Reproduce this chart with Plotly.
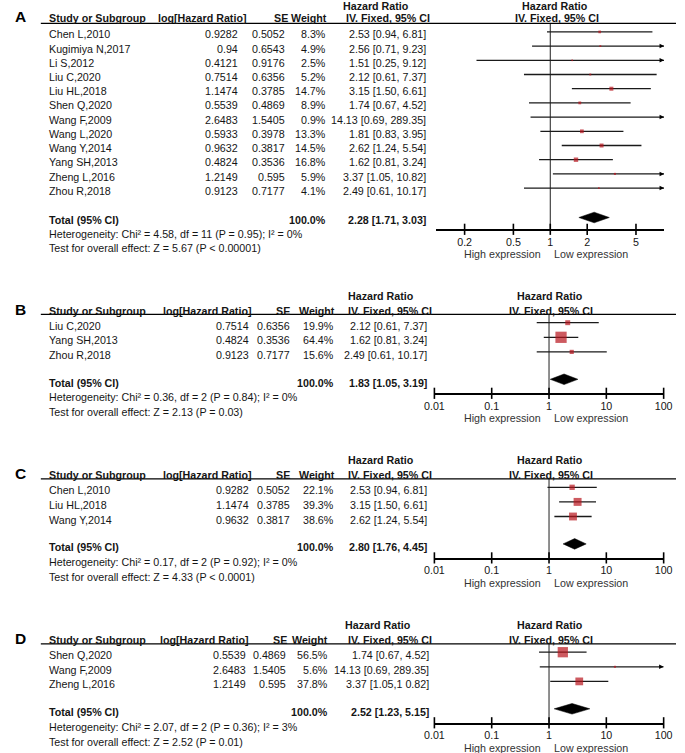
import math
import plotly.graph_objects as go

W, H = 685, 753
FONT = "Liberation Sans, Arial, sans-serif"
TXT = "#151515"
RED = "#B8141C"
FS = 10.7

# ---------------- data ----------------
A_study = ["Chen L,2010", "Kugimiya N,2017", "Li S,2012", "Liu C,2020", "Liu HL,2018", "Shen Q,2020",
           "Wang F,2009", "Wang L,2020", "Wang Y,2014", "Yang SH,2013", "Zheng L,2016", "Zhou R,2018"]
A_loghr = [0.9282, 0.94, 0.4121, 0.7514, 1.1474, 0.5539, 2.6483, 0.5933, 0.9632, 0.4824, 1.2149, 0.9123]
A_se = [0.5052, 0.6543, 0.9176, 0.6356, 0.3785, 0.4869, 1.5405, 0.3978, 0.3817, 0.3536, 0.595, 0.7177]
A_weight = [8.3, 4.9, 2.5, 5.2, 14.7, 8.9, 0.9, 13.3, 14.5, 16.8, 5.9, 4.1]
A_hr = [2.53, 2.56, 1.51, 2.12, 3.15, 1.74, 14.13, 1.81, 2.62, 1.62, 3.37, 2.49]
A_lo = [0.94, 0.71, 0.25, 0.61, 1.50, 0.67, 0.69, 0.83, 1.24, 0.81, 1.05, 0.61]
A_hi = [6.81, 9.23, 9.12, 7.37, 6.61, 4.52, 289.35, 3.95, 5.54, 3.24, 10.82, 10.17]
A_total = [2.28, 1.71, 3.03]
A_het = "Heterogeneity: Chi² = 4.58, df = 11 (P = 0.95); I² = 0%"
A_test = "Test for overall effect: Z = 5.67 (P < 0.00001)"
A_ticks = [0.2, 0.5, 1, 2, 5]
A_ticklabels = ["0.2", "0.5", "1", "2", "5"]
A_xrange = [0.1159, 8.47]

B_study = ["Liu C,2020", "Yang SH,2013", "Zhou R,2018"]
B_loghr = [0.7514, 0.4824, 0.9123]
B_se = [0.6356, 0.3536, 0.7177]
B_weight = [19.9, 64.4, 15.6]
B_hr = [2.12, 1.62, 2.49]
B_lo = [0.61, 0.81, 0.61]
B_hi = [7.37, 3.24, 10.17]
B_total = [1.83, 1.05, 3.19]
B_het = "Heterogeneity: Chi² = 0.36, df = 2 (P = 0.84); I² = 0%"
B_test = "Test for overall effect: Z = 2.13 (P = 0.03)"

C_study = ["Chen L,2010", "Liu HL,2018", "Wang Y,2014"]
C_loghr = [0.9282, 1.1474, 0.9632]
C_se = [0.5052, 0.3785, 0.3817]
C_weight = [22.1, 39.3, 38.6]
C_hr = [2.53, 3.15, 2.62]
C_lo = [0.94, 1.50, 1.24]
C_hi = [6.81, 6.61, 5.54]
C_total = [2.80, 1.76, 4.45]
C_het = "Heterogeneity: Chi² = 0.17, df = 2 (P = 0.92); I² = 0%"
C_test = "Test for overall effect: Z = 4.33 (P < 0.0001)"

D_study = ["Shen Q,2020", "Wang F,2009", "Zheng L,2016"]
D_loghr = [0.5539, 2.6483, 1.2149]
D_se = [0.4869, 1.5405, 0.595]
D_weight = [56.5, 5.6, 37.8]
D_hr = [1.74, 14.13, 3.37]
D_lo = [0.67, 0.69, 1.05]
D_hi = [4.52, 289.35, 10.82]
D_ci_labels = ["1.74 [0.67, 4.52]", "14.13 [0.69, 289.35]", "3.37 [1.05,1 0.82]"]
D_total = [2.52, 1.23, 5.15]
D_het = "Heterogeneity: Chi² = 2.07, df = 2 (P = 0.36); I² = 3%"
D_test = "Test for overall effect: Z = 2.52 (P = 0.01)"

BCD_ticks = [0.01, 0.1, 1, 10, 100]
BCD_ticklabels = ["0.01", "0.1", "1", "10", "100"]
BCD_xrange = [0.01, 100]


def ci_fmt(h, l, u):
    return f"{h:.2f} [{l:.2f}, {u:.2f}]"


# ---------------- layout geometry (pixels) ----------------
def geom_B(off):
    return dict(hr_y=295.7 + off, hdr_y=310.5 + off, line_y=314.3 + off, row0=325.7 + off, step=14.6,
                mk_off=-3.0, tot_y=382.7 + off, dia_y=379.3 + off, het_y=397.3 + off, test_y=412.3 + off,
                axis_y=393.3 + off, exp_y=418.3 + off, ax_x0=436.5, ax_x1=672.3, phr_c=555, piv_c=556.7)


colsA = dict(log_r=235, logh_r=242.7, se_r=282.7, seh_r=285.7, w_r=325.5, wh_r=325.8, ci_r=428.3,
             hrh_c=376, ivh_r=431.7)
colsB = dict(log_r=245.7, logh_r=248.3, se_r=287.5, seh_r=288.5, w_r=333.3, wh_r=334, ci_r=429,
             hrh_c=381.3, ivh_r=434)
colsD = dict(log_r=242.5, logh_r=244.3, se_r=283.8, seh_r=284.5, w_r=326.8, wh_r=327, ci_r=430.7,
             hrh_c=379, ivh_r=434)

geomA = dict(hr_y=5.7, hdr_y=18.3, line_y=23.3, row0=34.5, step=14.2, mk_off=-2.6, tot_y=220,
             dia_y=217.5, het_y=234, test_y=248.3, axis_y=229.3, exp_y=254, ax_x0=437.7, ax_x1=672.7,
             phr_c=561, piv_c=562.5)

panels = [
    dict(label="A", study=A_study, loghr=A_loghr, se=A_se, w=A_weight, hr=A_hr, lo=A_lo, hi=A_hi,
         ci_labels=[ci_fmt(*t) for t in zip(A_hr, A_lo, A_hi)], total=A_total, het=A_het, test=A_test,
         ticks=A_ticks, ticklabels=A_ticklabels, xrange=A_xrange, g=geomA, c=colsA),
    dict(label="B", study=B_study, loghr=B_loghr, se=B_se, w=B_weight, hr=B_hr, lo=B_lo, hi=B_hi,
         ci_labels=[ci_fmt(*t) for t in zip(B_hr, B_lo, B_hi)], total=B_total, het=B_het, test=B_test,
         ticks=BCD_ticks, ticklabels=BCD_ticklabels, xrange=BCD_xrange, g=geom_B(0), c=colsB),
    dict(label="C", study=C_study, loghr=C_loghr, se=C_se, w=C_weight, hr=C_hr, lo=C_lo, hi=C_hi,
         ci_labels=[ci_fmt(*t) for t in zip(C_hr, C_lo, C_hi)], total=C_total, het=C_het, test=C_test,
         ticks=BCD_ticks, ticklabels=BCD_ticklabels, xrange=BCD_xrange, g=geom_B(164.6), c=colsB),
    dict(label="D", study=D_study, loghr=D_loghr, se=D_se, w=D_weight, hr=D_hr, lo=D_lo, hi=D_hi,
         ci_labels=D_ci_labels, total=D_total, het=D_het, test=D_test,
         ticks=BCD_ticks, ticklabels=BCD_ticklabels, xrange=BCD_xrange, g=geom_B(329.5), c=colsD),
]

fig = go.Figure()
annotations = []
shapes = []


def txt(x, y, s, anchor="left", bold=False, size=FS, color=TXT):
    annotations.append(dict(x=x / W, y=1 - y / H, xref="paper", yref="paper",
                            text=f"<b>{s}</b>" if bold else s, showarrow=False,
                            xanchor=anchor, yanchor="middle", borderpad=0, borderwidth=0,
                            font=dict(size=size, color=color, family=FONT)))


layout_axes = {}
for k, p in enumerate(panels, start=1):
    g, c = p["g"], p["c"]
    xa, ya = f"x{k}", f"y{k}"
    n = len(p["study"])
    xmin, xmax = p["xrange"]

    # ---- text columns ----
    txt(11, g["hdr_y"] - 1.5, p["label"], "center", bold=True, size=15.5, color="#000")
    txt(c["hrh_c"], g["hr_y"], "Hazard Ratio", "center", bold=True)
    txt(g["phr_c"], g["hr_y"], "Hazard Ratio", "center", bold=True)
    txt(40, g["hdr_y"], "Study or Subgroup", "left", bold=True)
    txt(c["logh_r"], g["hdr_y"], "log[Hazard Ratio]", "right", bold=True)
    txt(c["seh_r"], g["hdr_y"], "SE", "right", bold=True)
    txt(c["wh_r"], g["hdr_y"], "Weight", "right", bold=True)
    txt(c["ivh_r"], g["hdr_y"], "IV. Fixed, 95% CI", "right", bold=True)
    txt(g["piv_c"], g["hdr_y"], "IV. Fixed, 95% CI", "center", bold=True)
    shapes.append(dict(type="line", xref="paper", yref="paper", x0=31.7 / W, x1=1,
                       y0=1 - g["line_y"] / H, y1=1 - g["line_y"] / H,
                       line=dict(color="#000", width=1.3)))

    rows_txt = [g["row0"] + i * g["step"] for i in range(n)]
    for i in range(n):
        y = rows_txt[i]
        txt(40, y, p["study"][i])
        txt(c["log_r"], y, str(p["loghr"][i]), "right")
        txt(c["se_r"], y, str(p["se"][i]), "right")
        txt(c["w_r"], y, f"{p['w'][i]:.1f}%", "right")
        txt(c["ci_r"], y, p["ci_labels"][i], "right")
    txt(40, g["tot_y"], "Total (95% CI)", bold=True)
    txt(c["w_r"], g["tot_y"], "100.0%", "right", bold=True)
    txt(c["ci_r"], g["tot_y"], ci_fmt(*p["total"]), "right", bold=True)
    txt(40, g["het_y"], p["het"])
    txt(40, g["test_y"], p["test"])
    txt(546, g["exp_y"], "High expression", "right", color="#333")
    txt(559.3, g["exp_y"], "Low expression", "left", color="#333")

    # ---- plot ----
    rows_mk = [y + g["mk_off"] for y in rows_txt]
    # line of no effect
    fig.add_trace(go.Scatter(x=[1, 1], y=[g["line_y"], g["axis_y"]], mode="lines",
                             line=dict(color="#333", width=1.1), xaxis=xa, yaxis=ya,
                             hoverinfo="skip", showlegend=False, cliponaxis=False))
    # CI lines
    lx, ly = [], []
    for i in range(n):
        lx += [max(p["lo"][i], xmin), min(p["hi"][i], xmax), None]
        ly += [rows_mk[i], rows_mk[i], None]
    fig.add_trace(go.Scatter(x=lx, y=ly, mode="lines", line=dict(color="#1a1a1a", width=1.3),
                             xaxis=xa, yaxis=ya, hoverinfo="skip", showlegend=False, cliponaxis=False))
    # arrows for truncated CIs
    ax_, ay_ = [], []
    for i in range(n):
        if p["hi"][i] > xmax:
            ax_.append(xmax)
            ay_.append(rows_mk[i])
    if ax_:
        fig.add_trace(go.Scatter(x=ax_, y=ay_, mode="markers",
                                 marker=dict(symbol="arrow-right", size=4.5, color="#000",
                                             line=dict(width=0)),
                                 xaxis=xa, yaxis=ya, hoverinfo="skip", showlegend=False, cliponaxis=False))
    # squares
    sizes = [max(1.6, 0.61 * w ** 0.7) for w in p["w"]]
    fig.add_trace(go.Scatter(x=p["hr"], y=rows_mk, mode="markers",
                             marker=dict(symbol="square", size=sizes, color=RED, line=dict(width=0)),
                             xaxis=xa, yaxis=ya, hoverinfo="skip", showlegend=False, cliponaxis=False))
    # diamond
    est, tlo, thi = p["total"]
    dy = g["dia_y"]
    fig.add_trace(go.Scatter(x=[tlo, est, thi, est, tlo], y=[dy, dy - 5.3, dy, dy + 5.3, dy],
                             mode="lines", fill="toself", fillcolor="#000",
                             line=dict(color="#000", width=0.5), xaxis=xa, yaxis=ya,
                             hoverinfo="skip", showlegend=False, cliponaxis=False))
    # tick marks crossing the axis
    fig.add_trace(go.Scatter(x=p["ticks"], y=[g["axis_y"]] * len(p["ticks"]), mode="markers",
                             marker=dict(symbol="line-ns", size=8, line=dict(color="#000", width=1.6)),
                             xaxis=xa, yaxis=ya, hoverinfo="skip", showlegend=False, cliponaxis=False))

    xkey = "xaxis" if k == 1 else f"xaxis{k}"
    ykey = "yaxis" if k == 1 else f"yaxis{k}"
    layout_axes[xkey] = dict(domain=[g["ax_x0"] / W, g["ax_x1"] / W], type="log",
                             range=[math.log10(xmin), math.log10(xmax)], anchor=ya,
                             showline=True, linecolor="#000", linewidth=1.5,
                             ticks="", ticklabelstandoff=2,
                             tickvals=p["ticks"], ticktext=p["ticklabels"],
                             tickfont=dict(size=FS, color=TXT, family=FONT),
                             showgrid=False, zeroline=False, fixedrange=True)
    layout_axes[ykey] = dict(domain=[1 - g["axis_y"] / H, 1 - g["line_y"] / H],
                             range=[g["axis_y"], g["line_y"]], anchor=xa, visible=False,
                             showgrid=False, zeroline=False, fixedrange=True)

fig.update_layout(width=W, height=H, margin=dict(l=0, r=0, t=0, b=0),
                  paper_bgcolor="white", plot_bgcolor="rgba(0,0,0,0)",
                  annotations=annotations, shapes=shapes, showlegend=False,
                  font=dict(family=FONT, size=FS, color=TXT), **layout_axes)

fig.write_html("out.html", config={"displayModeBar": False},
               post_script="document.body.style.margin='0';document.body.style.overflow='hidden';")
